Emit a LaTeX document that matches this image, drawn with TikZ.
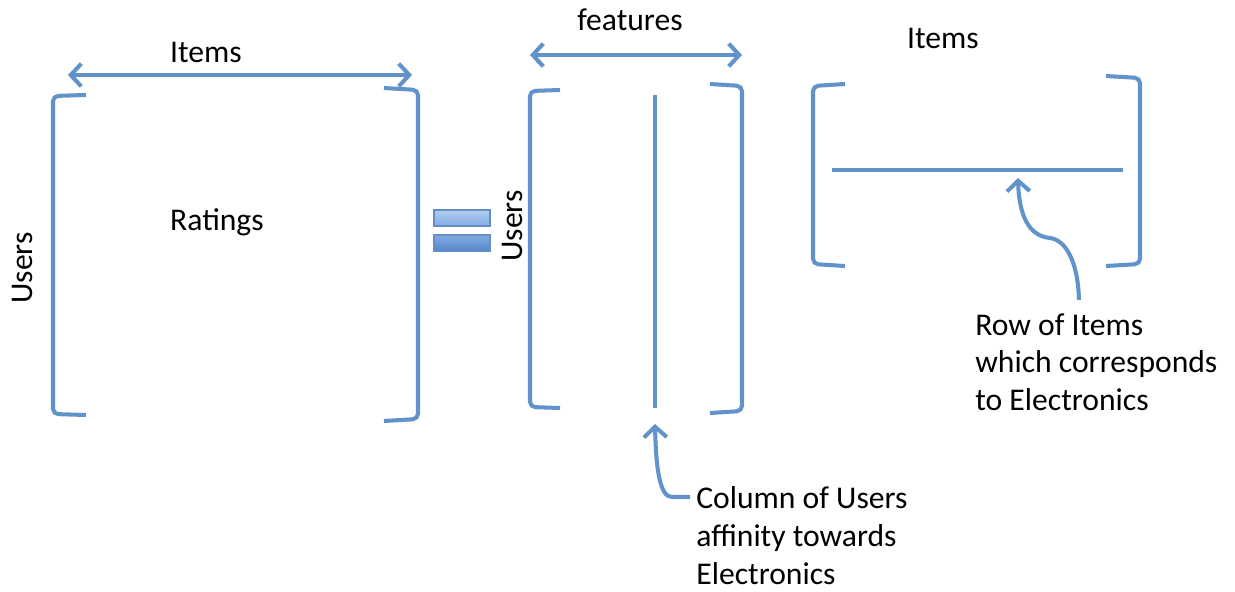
\documentclass[tikz,border=0pt]{standalone}
\usepackage{fontspec}
\setmainfont{Carlito}
\usetikzlibrary{arrows.meta,positioning}

\definecolor{lineblue}{RGB}{98,146,202}
\definecolor{eqlight}{RGB}{178,206,242}
\definecolor{eqmid}{RGB}{130,172,228}
\definecolor{eqdark}{RGB}{84,134,200}
\definecolor{eqedge}{RGB}{100,142,196}

\tikzset{
  brk/.style={draw=lineblue, line width=2.3pt, rounded corners=3pt},
  dimarrow/.style={draw=lineblue, line width=2.3pt,
    {Straight Barb[length=6pt,width=13pt]}-{Straight Barb[length=6pt,width=13pt]}},
  conn/.style={draw=lineblue, line width=2.3pt, -{Straight Barb[length=6pt,width=13pt]}},
  lbl/.style={font=\fontsize{18}{21.6}\selectfont, inner sep=0pt},
  note/.style={lbl, align=left, anchor=north west},
  eqbar/.style={draw=eqedge, line width=0.6pt, inner sep=0pt,
    minimum width=1.12cm, minimum height=0.32cm},
}

\begin{document}
\begin{tikzpicture}[x=0.02cm, y=-0.02cm]
  \useasboundingbox (0,0) rectangle (1235,592);

  % ratings matrix
  \draw[brk] (86,95) -- (53,96) -- (53,414) -- (86,415);
  \draw[brk] (384,88) -- (418,90) -- (418,419) -- (384,421);
  \coordinate (ratL) at (68,75);
  \coordinate (ratR) at (412,75);
  \draw[dimarrow] (ratL) -- (ratR);
  \node[lbl] (itemsA) at (206,52) {Items};
  \node[lbl] (ratings) at (217,222) {Ratings};
  \node[lbl, rotate=90] (usersA) at (22,268) {Users};

  % equals sign
  \node[eqbar, top color=eqlight, bottom color=eqmid] (eqtop) at (462,218) {};
  \node[eqbar, top color=eqmid, bottom color=eqdark] (eqbot) at (462,243) {};

  % users x features
  \draw[brk] (560,90) -- (530,91) -- (530,407) -- (560,408);
  \draw[brk] (710,84) -- (742,86) -- (742,411) -- (710,413);
  \coordinate (featL) at (530,55);
  \coordinate (featR) at (742,55);
  \draw[dimarrow] (featL) -- (featR);
  \node[lbl] (features) at (630,20) {features};
  \node[lbl, rotate=90] (usersB) at (512,226) {Users};
  \coordinate (colTop) at (655,95);
  \coordinate (colBot) at (655,408);
  \draw[brk] (colTop) -- (colBot);

  % features x items
  \draw[brk] (845,84) -- (813,86) -- (813,264) -- (845,266);
  \draw[brk] (1106,76) -- (1140,78) -- (1140,264) -- (1106,266);
  \node[lbl] (itemsB) at (943,38) {Items};
  \coordinate (rowL) at (832,170);
  \coordinate (rowR) at (1123,170);
  \draw[brk] (rowL) -- (rowR);

  % notes
  \node[note] (colnote) at (696,486) {Column of Users\\affinity towards\\Electronics};
  \node[note] (rownote) at (975,313) {Row of Items\\which corresponds\\to Electronics};
  \coordinate (colFoot) at (690,497);
  \coordinate (colTip) at (655,424);
  \coordinate (rowFoot) at (1079,300);
  \coordinate (rowTip) at (1018,178);
  \draw[conn] (colFoot) -- ++(-18,0)
    .. controls (660,497) and (656,470) .. (colTip);
  \draw[conn] (rowFoot) .. controls (1078,262) and (1066,240) .. (1050,238)
    .. controls (1028,236) and (1019,214) .. (rowTip);
\end{tikzpicture}
\end{document}
